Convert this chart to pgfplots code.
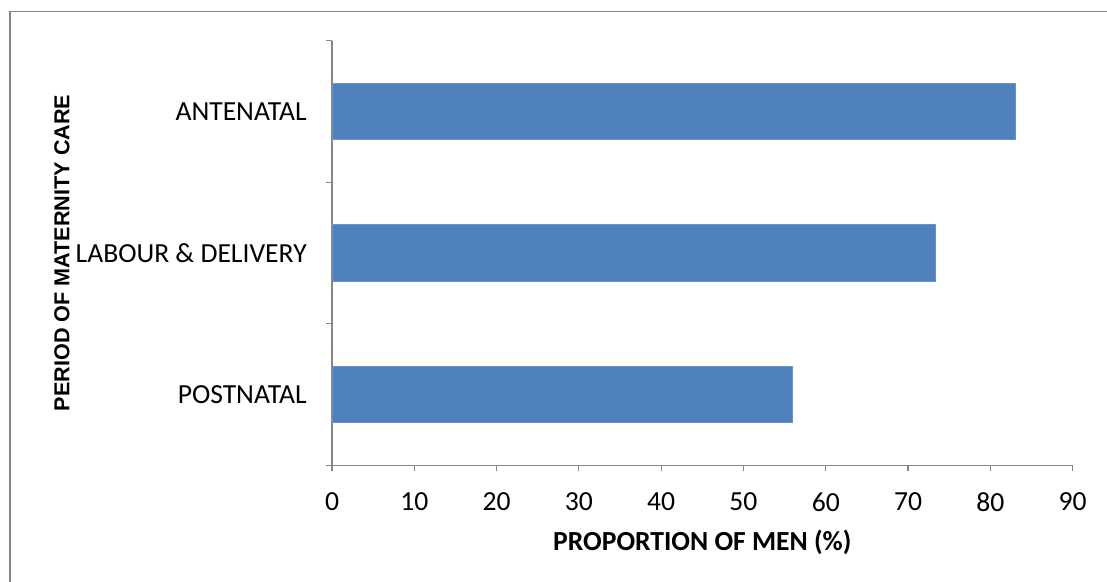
\documentclass[border=0pt]{standalone}
\usepackage{pgfplots}
\pgfplotsset{compat=1.18}
\usepackage{fontspec}
\setmainfont{Carlito}
\newfontfamily\arialfont{Liberation Sans}
\definecolor{barblue}{HTML}{4F81BD}
\definecolor{axgray}{HTML}{868686}
\begin{document}
\begin{tikzpicture}
\path[use as bounding box] (0,0) rectangle (830.25pt,436.5pt);
\draw[axgray, line width=0.9pt] (7.5pt,0) -- (7.5pt,428pt) -- (830.25pt,428pt);
\begin{axis}[
  at={(249pt,87.5pt)}, anchor=south west,
  scale only axis, width=555.5pt, height=318.5pt,
  xbar, bar shift=0pt, bar width=0.4,
  xmin=0, xmax=90, ymin=-0.5, ymax=2.5,
  xtick={0,10,...,90},
  ytick={0,1,2},
  yticklabels={POSTNATAL, LABOUR \& DELIVERY, ANTENATAL},
  minor ytick={-0.5,0.5,1.5,2.5},
  axis x line*=bottom, axis y line*=left,
  axis line style={axgray, line width=0.9pt, -},
  every tick/.style={axgray, line width=0.9pt},
  major tick length=0pt,
  minor tick length=4.5pt,
  x tick style={/pgfplots/major tick length=4.5pt},
  tick align=outside,
  x axis line style={shorten <=-4.5pt},
  ticklabel style={font=\fontsize{20.7}{23}\selectfont, text=black, inner sep=0pt},
  /pgf/number format/assume math mode=true,
  xticklabel style={anchor=center, yshift=-27.5pt},
  yticklabel style={anchor=east, xshift=-18.75pt},
  xlabel={\textbf{PROPORTION OF MEN (\%)}},
  xlabel style={font=\fontsize{20.7}{23}\selectfont, at={(axis description cs:0.5,0)}, anchor=center, yshift=-57.5pt},
  ylabel={\arialfont\bfseries PERIOD OF MATERNITY CARE},
  ylabel style={font=\fontsize{16.2}{18}\selectfont, at={(axis description cs:-0.3646,0.5)}, anchor=center},
  clip=false,
]
\addplot[fill=barblue, draw=barblue!85!white, line width=0.6pt] coordinates {
  (56.0,0) (73.3,1) (83.0,2)
};
\end{axis}
\end{tikzpicture}
\end{document}
